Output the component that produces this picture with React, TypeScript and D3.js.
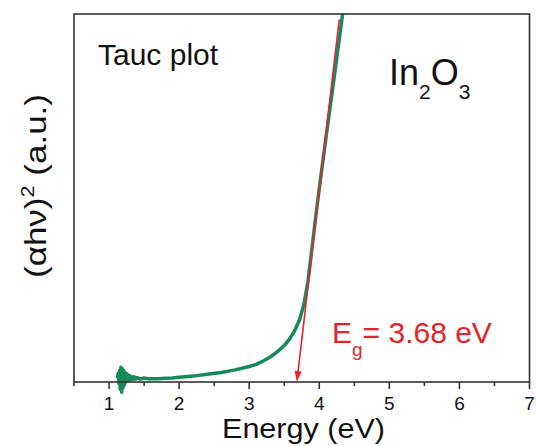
import React from "react";
import * as d3 from "d3";

const energy = [1.12,1.13,1.14,1.15,1.16,1.17,1.18,1.19,1.2,1.21,1.22,1.23,1.24,1.25,1.26,1.27,1.28,1.29,1.3,1.32,1.34,1.36,1.38,1.4,1.45,1.5,1.55,1.6,1.7,1.8,1.9,2.0,2.2,2.4,2.6,2.8,3.0,3.1,3.2,3.3,3.4,3.5,3.58,3.65,3.72,3.78,3.84,3.9,3.96,4.02,4.1,4.2,4.34];
const absorb = [1.0,2.4,-0.4,3.2,-2.0,4.0,-2.8,3.6,-1.6,3.1,-0.8,2.6,0,2.3,0.2,2.0,0.4,1.8,0.6,1.5,0.7,1.4,0.8,1.2,0.8,1.1,0.9,0.9,0.9,1.0,1.1,1.3,1.6,2.1,2.6,3.3,4.2,4.8,5.7,6.8,8.2,9.9,11.8,14.0,17.0,21.0,27.5,37.0,46.5,55.5,67,81,101];

const tangentE = [3.68, 4.285];
const tangentV = [0, 98.5];

const majorTicks = [1, 2, 3, 4, 5, 6, 7];
const minorTicks = [0.5, 1.5, 2.5, 3.5, 4.5, 5.5, 6.5];

const W = 536, H = 446;
const L = 74, R = 529.5, T = 14, B = 382;
const FONT = "'Liberation Sans', Arial, sans-serif";

export default function App() {
  const x = d3.scaleLinear().domain([0.5, 7]).range([L, R]);
  const y = d3.scaleLinear().domain([0, 100]).range([B, T]);
  const pts = energy.map((e, i) => [e, absorb[i]] as [number, number]);
  const line = d3.line<[number, number]>().x(d => x(d[0])).y(d => y(d[1]));
  const tx1 = x(tangentE[0]), ty1 = y(tangentV[0]);
  const tx2 = x(tangentE[1]), ty2 = y(tangentV[1]);
  const ang = Math.atan2(ty1 - ty2, tx1 - tx2);
  const ah = 11, aw = 3.5;
  const bx = tx1 - ah * Math.cos(ang), by = ty1 - ah * Math.sin(ang);
  const arrow = `M${tx1},${ty1} L${bx + aw * Math.sin(ang)},${by - aw * Math.cos(ang)} L${bx - aw * Math.sin(ang)},${by + aw * Math.cos(ang)} Z`;
  return (
    <svg width={W} height={H} style={{ position: "absolute", left: 0, top: 0, background: "#fff" }}>
      <defs>
        <clipPath id="clip">
          <rect x={L} y={T} width={R - L} height={400 - T} />
        </clipPath>
      </defs>
      <path d={line(pts) || ""} fill="none" stroke="#178a5c" strokeWidth={3.5} strokeLinejoin="round" clipPath="url(#clip)" />
      <line x1={tx2} y1={ty2} x2={bx} y2={by} stroke="#e3242b" strokeWidth={1.6} />
      <path d={arrow} fill="#e3242b" />
      <rect x={L} y={T} width={R - L} height={B - T} fill="none" stroke="#333" strokeWidth={1.6} />
      {majorTicks.map(t => (
        <g key={"M" + t}>
          <line x1={x(t)} x2={x(t)} y1={B} y2={B + 7} stroke="#333" strokeWidth={1.6} />
          <text x={x(t)} y={410} fontSize={19} fontFamily={FONT} textAnchor="middle" fill="#111">{t}</text>
        </g>
      ))}
      {minorTicks.map(t => (
        <line key={"m" + t} x1={x(t)} x2={x(t)} y1={B} y2={B + 4} stroke="#333" strokeWidth={1.6} />
      ))}
      <text x={222} y={438} fontSize={27} fontFamily={FONT} fill="#111" textLength={163} lengthAdjust="spacingAndGlyphs">Energy (eV)</text>
      <text transform="translate(46,278) rotate(-90)" fontSize={29} fontFamily={FONT} fill="#111" textLength={184} lengthAdjust="spacingAndGlyphs">
        (αhν)<tspan dy={-12} fontSize={18}>2</tspan><tspan dy={12}> (a.u.)</tspan>
      </text>
      <text x={98} y={65} fontSize={30} fontFamily={FONT} fill="#111">Tauc plot</text>
      <text x={389} y={85} fontSize={36} fontFamily={FONT} fill="#111">
        In<tspan dy={14} fontSize={21}>2</tspan><tspan dy={-14}>O</tspan><tspan dy={14} fontSize={21}>3</tspan>
      </text>
      <text x={332} y={343} fontSize={30} fontFamily={FONT} fill="#e3242b">
        E<tspan dy={13} fontSize={19}>g</tspan><tspan dy={-13}>= 3.68 eV</tspan>
      </text>
    </svg>
  );
}
